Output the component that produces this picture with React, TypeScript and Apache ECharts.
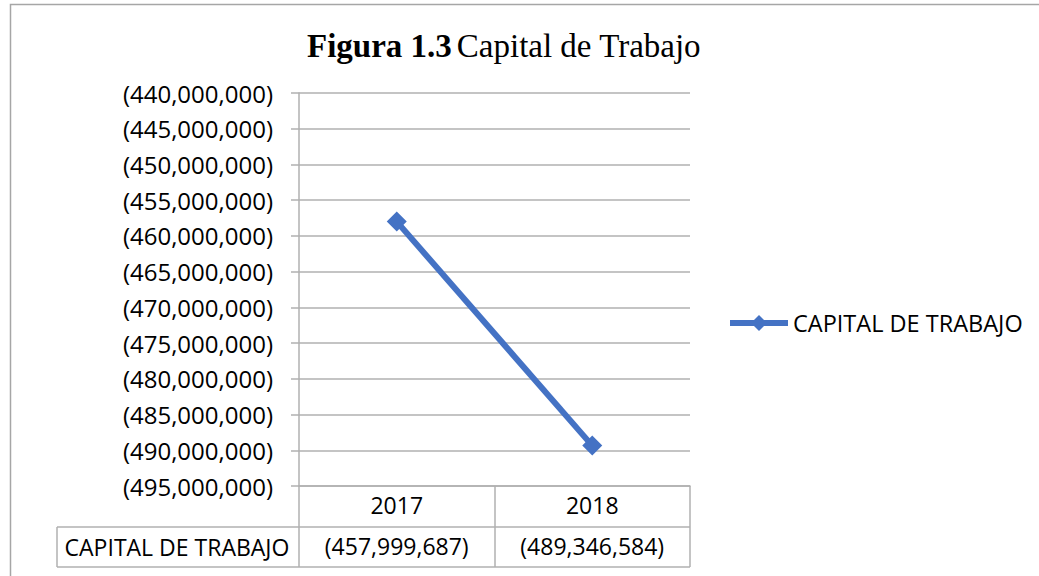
import React, { useEffect, useRef } from "react";
import * as echarts from "echarts";

const categories = ["2017", "2018"];
const seriesName = "CAPITAL DE TRABAJO";
const values = [-457999687, -489346584];
const yMin = -495000000;
const yMax = -440000000;
const yStep = 5000000;

const fmt = (v: number) => {
  const s = Math.abs(Math.round(v)).toLocaleString("en-US");
  return v < 0 ? `(${s})` : s;
};

const GRAY = "#b0b0b0";
const FONT = "Open Sans";

export default function App() {
  const ref = useRef<HTMLDivElement>(null);
  useEffect(() => {
    if (!ref.current) return;
    const chart = echarts.init(ref.current, null, { renderer: "svg" });
    chart.setOption({
      animation: false,
      backgroundColor: "#ffffff",
      title: {
        left: 302,
        top: 24,
        text: "{b|Figura 1.3} {n|Capital de Trabajo}",
        textStyle: {
          rich: {
            b: { fontFamily: "Liberation Serif", fontWeight: "bold", fontSize: 33, color: "#000" },
            n: { fontFamily: "Liberation Serif", fontWeight: "normal", fontSize: 33, color: "#000" },
          },
        },
      },
      legend: {
        left: 727,
        top: 311,
        padding: 0,
        itemWidth: 58,
        itemHeight: 20,
        itemGap: 0,
        data: [seriesName],
        lineStyle: { width: 6, color: "#4472C4" },
        textStyle: { fontFamily: FONT, fontSize: 23.5, color: "#000" },
      },
      grid: { left: 299, right: 349, top: 93, bottom: 90, containLabel: false },
      xAxis: [
        {
          type: "category",
          data: categories,
          boundaryGap: true,
          axisLine: { show: true, lineStyle: { color: GRAY, width: 1.5 } },
          axisTick: { show: true, length: 81, lineStyle: { color: GRAY, width: 1.5 } },
          axisLabel: {
            margin: 19,
            verticalAlign: "middle",
            fontFamily: FONT,
            fontSize: 23,
            color: "#000",
          },
          splitLine: { show: false },
        },
        {
          type: "category",
          data: categories,
          boundaryGap: true,
          position: "bottom",
          offset: 41,
          axisLine: { show: false },
          axisTick: { show: false },
          axisLabel: {
            margin: 19,
            verticalAlign: "middle",
            fontFamily: FONT,
            fontSize: 23,
            color: "#000",
            formatter: (_v: string, i: number) => fmt(values[i]),
          },
        },
      ],
      yAxis: {
        type: "value",
        min: yMin,
        max: yMax,
        interval: yStep,
        axisLine: { show: true, lineStyle: { color: GRAY, width: 1.5 } },
        axisTick: { show: true, length: 8, lineStyle: { color: GRAY, width: 1.5 } },
        axisLabel: {
          margin: 26,
          fontFamily: FONT,
          fontSize: 24,
          color: "#000",
          formatter: (v: number) => fmt(v),
        },
        splitLine: { show: true, lineStyle: { color: GRAY, width: 1.5 } },
      },
      graphic: [
        {
          type: "rect",
          silent: true,
          shape: { x: 10.5, y: 4.5, width: 1200, height: 800 },
          style: { fill: "none", stroke: "#a6a6a6", lineWidth: 1.5 },
        },
        {
          type: "line",
          shape: { x1: 57, y1: 527, x2: 690, y2: 527 },
          style: { stroke: GRAY, lineWidth: 1.5 },
        },
        {
          type: "line",
          shape: { x1: 57, y1: 567, x2: 690, y2: 567 },
          style: { stroke: GRAY, lineWidth: 1.5 },
        },
        {
          type: "line",
          shape: { x1: 57, y1: 527, x2: 57, y2: 567 },
          style: { stroke: GRAY, lineWidth: 1.5 },
        },
        {
          type: "text",
          x: 177,
          y: 547,
          style: {
            text: seriesName,
            fontFamily: FONT,
            fontSize: 23,
            fill: "#000",
            align: "center",
            verticalAlign: "middle",
          },
        },
      ],
      series: [
        {
          name: seriesName,
          type: "line",
          xAxisIndex: 0,
          data: values,
          symbol: "diamond",
          symbolSize: 20,
          itemStyle: { color: "#4472C4" },
          lineStyle: { color: "#4472C4", width: 6 },
        },
      ],
    });
    return () => chart.dispose();
  }, []);
  return (
    <div
      ref={ref}
      style={{ position: "absolute", left: 0, top: 0, width: 1039, height: 576 }}
    />
  );
}
